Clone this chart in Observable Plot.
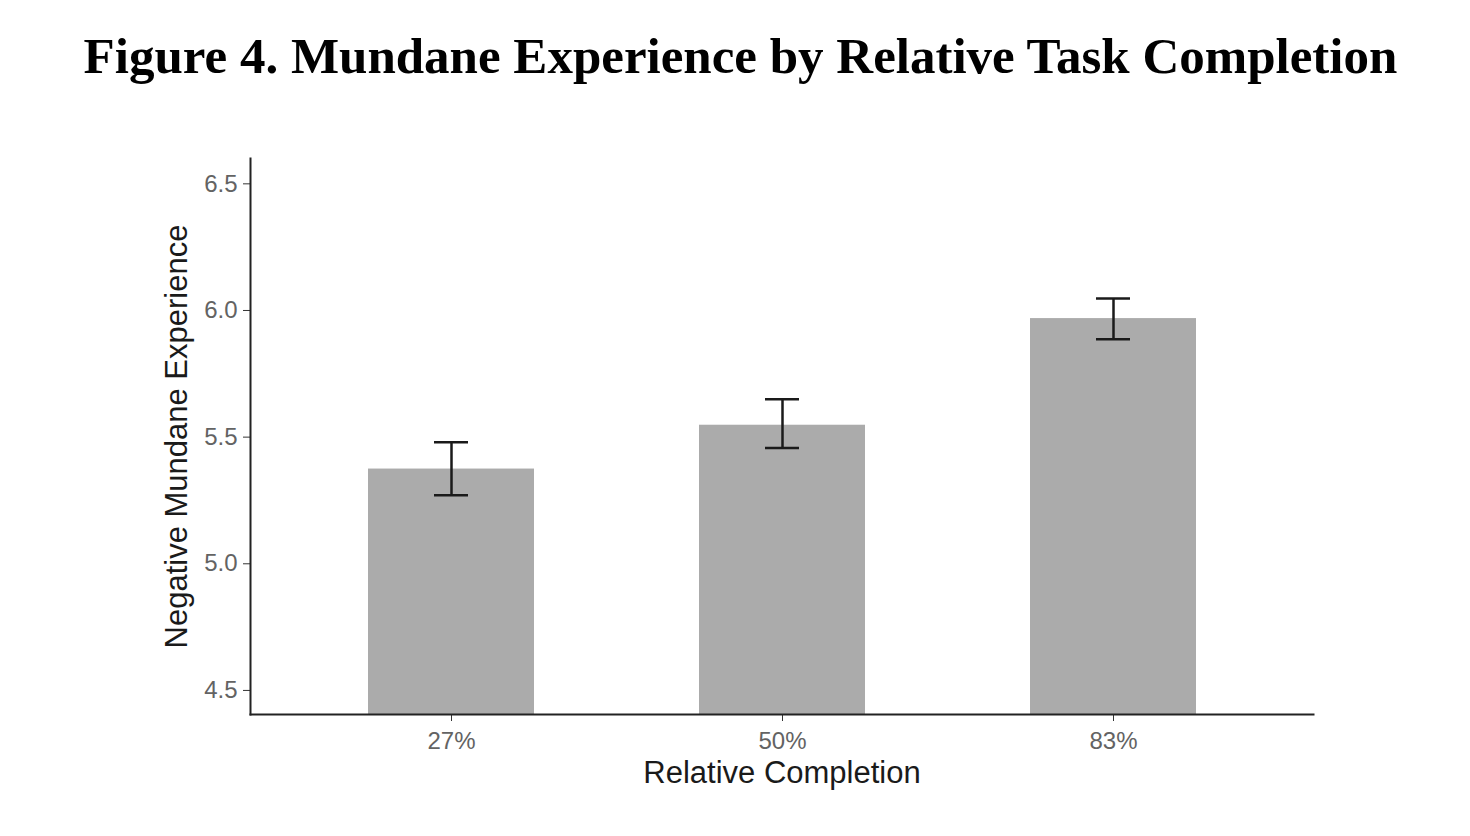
<!DOCTYPE html>
<html><head><meta charset="utf-8">
<script src="https://cdn.jsdelivr.net/npm/d3@7"></script>
<script src="https://cdn.jsdelivr.net/npm/@observablehq/plot@0.6"></script>
<style>
body{margin:0;background:#fff;width:1470px;height:836px;overflow:hidden}
#title{height:110px;box-sizing:border-box;padding-top:31px;padding-left:11px;text-align:center;font-family:"Liberation Serif","Times New Roman",serif;font-weight:bold;font-size:51px;line-height:51px;color:#000;white-space:nowrap}
#chart svg{display:block}
</style></head><body>
<div id="title">Figure 4. Mundane Experience by Relative Task Completion</div>
<div id="chart"></div>
<script>
const categories = ["27%", "50%", "83%"];
const means = [5.374, 5.547, 5.968];
const lower = [5.271, 5.457, 5.886];
const upper = [5.480, 5.650, 6.047];
const yTicks = [4.5, 5.0, 5.5, 6.0, 6.5];
const yDomain = [4.405, 6.6];
const xTitle = "Relative Completion";
const yTitle = "Negative Mundane Experience";

const data = categories.map((c, i) => ({cat: c, mean: means[i], lo: lower[i], hi: upper[i]}));

const chart = Plot.plot({
  width: 1470, height: 726,
  marginTop: 48, marginBottom: 122, marginLeft: 250, marginRight: 157,
  style: {fontFamily: "'Liberation Sans', Arial, sans-serif", background: "#fff"},
  x: {domain: categories, paddingInner: 0.5, paddingOuter: 0.355, label: null},
  y: {domain: yDomain, label: null},
  marks: [
    Plot.barY(data, {x: "cat", y1: yDomain[0], y2: "mean", fill: "#ababab"}),
    Plot.ruleX(data, {x: "cat", y1: "lo", y2: "hi", stroke: "#1a1a1a", strokeWidth: 2.5}),
    Plot.tickY(data, {x: "cat", y: "lo", stroke: "#1a1a1a", strokeWidth: 2.5, insetLeft: 66, insetRight: 66}),
    Plot.tickY(data, {x: "cat", y: "hi", stroke: "#1a1a1a", strokeWidth: 2.5, insetLeft: 66, insetRight: 66}),
    Plot.axisY({ticks: yTicks, tickFormat: d3.format(".1f"), tickSize: 7, tickPadding: 6, fontSize: 24, stroke: "#333", fill: "#636363", label: null}),
    Plot.axisX({tickSize: 7, tickPadding: 10, fontSize: 24, stroke: "#333", fill: "#636363", label: null}),
    Plot.frame({anchor: "left", stroke: "#222", strokeWidth: 2}),
    Plot.frame({anchor: "bottom", stroke: "#222", strokeWidth: 2}),
    Plot.text([yTitle], {frameAnchor: "left", dx: -73, rotate: -90, textAnchor: "middle", lineAnchor: "middle", fontSize: 31, fill: "#1a1a1a"}),
    Plot.text([xTitle], {frameAnchor: "bottom", dy: 59, textAnchor: "middle", lineAnchor: "middle", fontSize: 31, fill: "#1a1a1a"})
  ]
});
document.getElementById("chart").appendChild(chart);
</script>
</body></html>
